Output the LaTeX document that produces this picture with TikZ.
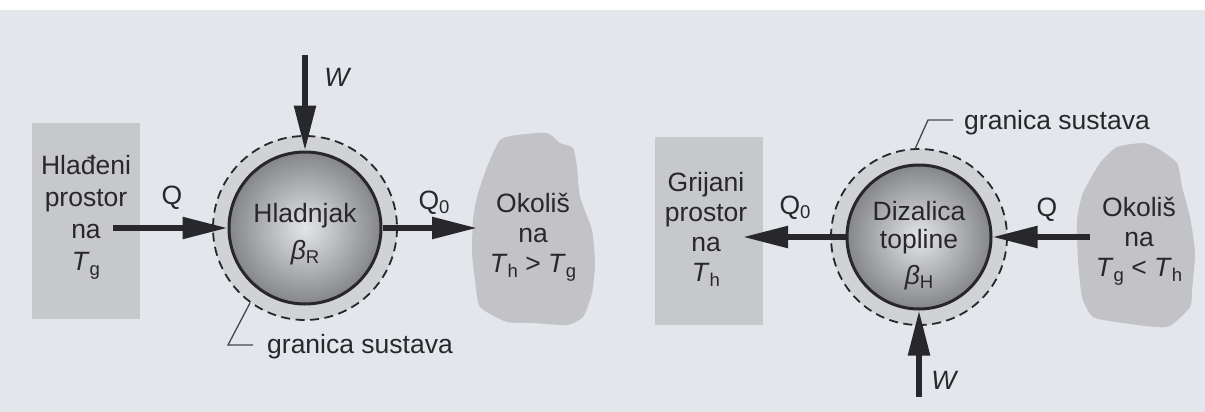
\documentclass[tikz,border=0pt]{standalone}
\usepackage{fontspec}
\usepackage{graphicx}
\setmainfont{Liberation Sans}
\usetikzlibrary{arrows.meta}
\definecolor{bg}{RGB}{227,230,234}
\definecolor{boxgray}{RGB}{199,200,204}
\definecolor{blobgray}{RGB}{194,194,199}
\definecolor{ink}{RGB}{40,40,44}
\definecolor{ring}{RGB}{208,210,214}
\definecolor{corein}{RGB}{228,229,232}
\definecolor{coreout}{RGB}{132,134,138}
\newcommand\lsub[1]{\raisebox{-0.3ex}{\fontsize{18.5}{18.5}\selectfont #1}}
\newcommand\vT{\textit{T}}
\begin{document}
\begin{tikzpicture}[x=1pt,y=-1pt,
  txt/.style={font=\fontsize{26.5}{30}\selectfont, text=ink, align=center, inner sep=0pt},
  flow/.style={draw=ink, line width=5.5pt, -{Triangle[length=45pt,width=21pt]}},
  core/.style={circle, draw=ink, line width=3pt, inner sep=0pt, inner color=corein, outer color=coreout},
  bound/.style={draw=ink, line width=1.8pt, dash pattern=on 9pt off 5.5pt, fill=ring},
  leader/.style={draw=ink!85, line width=1.3pt},
  boxreg/.style={fill=boxgray, inner sep=0pt}
]
\useasboundingbox (0,0) rectangle (1205,412);
\fill[bg] (0,0) rectangle (1205,412);
\fill[white] (0,0) rectangle (1205,10);

% ---------- left: refrigerator ----------
\node[boxreg, minimum width=108pt, minimum height=196pt] (coldbox) at (86,221) {};
\node[txt, font=\fontsize{26.5}{32}\selectfont, anchor=north] (coldtxt) at (86,155.5)
  {Hlađeni\\prostor\\na\\\vT\lsub{g}};

\fill[blobgray] plot[smooth cycle, tension=0.35] coordinates {
  (500,140) (517,135) (547,133) (560,143) (573,148) (577,167) (580,197)
  (592,230) (595,263) (592,293) (583,317) (567,325) (533,323) (507,322)
  (480,307) (475,280) (472,253) (473,220) (477,197) (487,167)};
\node[txt, anchor=north] (hottxt) at (533,193.5)
  {Okoliš\\na\\\vT\lsub{h} > \vT\lsub{g}};

\draw[bound] (305,228) circle[radius=92];
\node[core, minimum size=152pt] (hl) at (305,228) {};
\node[txt, anchor=base] (hlname) at (305,222.5) {Hladnjak};
\node[txt, anchor=base] (hlbeta) at (305,259.5) {\textit{β}\lsub{R}};

\coordinate (qin) at (113,228);
\coordinate (q0tip) at (477,228);
\coordinate (wtop) at (305,55);
\draw[flow] (qin) -- (hl.west);
\draw[flow] (hl.east) -- (q0tip);
\draw[flow] (wtop) -- (hl.north);

\node[txt, anchor=base] (lq) at (172,204.5) {Q};
\node[txt, anchor=base] (lq0) at (434,209.5) {Q\lsub{0}};
\node[txt, anchor=base] (lw) at (338,86.5) {\textit{W}};

\coordinate (lb1) at (250,303);
\coordinate (lb2) at (228,345);
\coordinate (lb3) at (253,345);
\draw[leader] (lb1) -- (lb2) -- (lb3);
\node[txt, anchor=base west] (lgran) at (267,353.5) {granica sustava};

% ---------- right: heat pump ----------
\node[boxreg, minimum width=108pt, minimum height=188pt] (warmbox) at (709,231) {};
\node[txt, anchor=north] (warmtxt) at (706,172.5)
  {Grijani\\prostor\\na\\\vT\lsub{h}};

\fill[blobgray] plot[smooth cycle, tension=0.35] coordinates {
  (1117,147) (1143,143) (1157,148) (1177,163) (1182,187) (1190,217)
  (1195,253) (1192,290) (1190,307) (1167,327) (1123,323) (1093,317)
  (1082,297) (1078,260) (1077,220) (1083,193) (1100,163)};
\node[txt, anchor=north] (envtxt) at (1139,197.5)
  {Okoliš\\na\\\vT\lsub{g} < \vT\lsub{h}};

\draw[bound] (919,237) circle[radius=88];
\node[core, minimum size=144pt] (dz) at (919,237) {};
\node[txt, anchor=base] (dzname) at (919,220.5) {Dizalica};
\node[txt, anchor=base] (dzname2) at (919,248) {topline};
\node[txt, anchor=base] (dzbeta) at (919,284.5) {\textit{β}\lsub{H}};

\coordinate (q0rtip) at (743,237);
\coordinate (qrin) at (1090,237);
\coordinate (wbot) at (919,397);
\draw[flow] (dz.west) -- (q0rtip);
\draw[flow] (qrin) -- (dz.east);
\draw[flow] (wbot) -- (dz.south);

\node[txt, anchor=base] (rq0) at (795,214.5) {Q\lsub{0}};
\node[txt, anchor=base] (rq) at (1047,216.5) {Q};
\node[txt, anchor=base] (rw) at (945,389.5) {\textit{W}};

\coordinate (rb1) at (915,149);
\coordinate (rb2) at (928,120);
\coordinate (rb3) at (953,120);
\draw[leader] (rb1) -- (rb2) -- (rb3);
\node[txt, anchor=base west] (rgran) at (964,129) {granica sustava};
\end{tikzpicture}
\end{document}
